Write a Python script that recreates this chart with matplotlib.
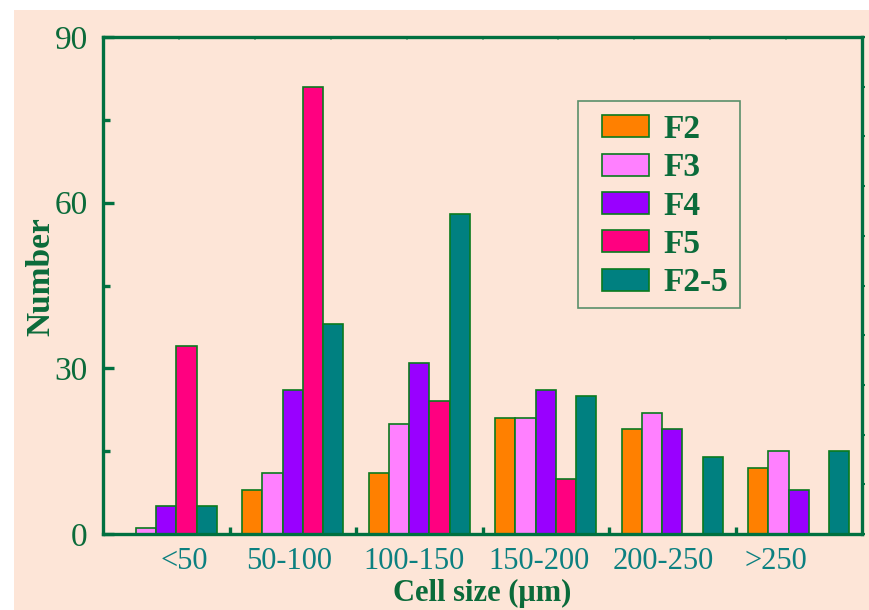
import numpy as np
import matplotlib.pyplot as plt
from matplotlib.patches import Rectangle

plt.rcParams['font.family'] = ['Liberation Serif', 'DejaVu Serif']

# cell size distribution per sample
size_bins = ["<50", "50-100", "100-150", "150-200", "200-250", ">250"]
samples = ["F2", "F3", "F4", "F5", "F2-5"]
f2 = [0, 8, 11, 21, 19, 12]
f3 = [1, 11, 20, 21, 22, 15]
f4 = [5, 26, 31, 26, 19, 8]
f5 = [34, 81, 24, 10, 0, 0]
f2_5 = [5, 38, 58, 25, 14, 15]
y_ticks = [0, 30, 60, 90]

colors = ["#ff8000", "#ff80ff", "#9900ff", "#ff0080", "#008080"]
edge = "#0a7a1e"
axis_green = "#007040"
label_green = "#0b6b3a"
tick_teal = "#0c8080"
peach = "#fde5d7"

fig = plt.figure(figsize=(8.69, 6.10), dpi=100, facecolor="white")
fig.patches.append(Rectangle((14 / 869, 0), 1, 1 - 10 / 610, transform=fig.transFigure,
                             facecolor=peach, edgecolor="none", zorder=-10))

ax = fig.add_axes([103 / 869, 76 / 610, 759 / 869, 497 / 610])
ax.set_facecolor(peach)

x = np.arange(len(size_bins))
width = 0.16
series = [f2, f3, f4, f5, f2_5]
for i, (vals, name, c) in enumerate(zip(series, samples, colors)):
    ax.bar(x + (i - 2) * width, vals, width, color=c, edgecolor=edge,
           linewidth=1.2, label=name, zorder=2)

ax.set_xlim(-0.5, 5.5)
ax.set_ylim(0, 90)

for sp in ax.spines.values():
    sp.set_color(axis_green)
    sp.set_linewidth(2.4)
    sp.set_zorder(5)

ax.set_yticks(y_ticks)
ax.set_yticks([15, 45, 75], minor=True)
ax.set_xticks(x)
ax.set_xticks(x[:-1] + 0.5, minor=True)
ax.set_xticklabels([])
ax.tick_params(axis="both", which="major", direction="in", length=8, width=2.4,
               color=axis_green, labelsize=24)
ax.tick_params(axis="both", which="minor", direction="in", length=5, width=2.4,
               color=axis_green)
ax.tick_params(axis="y", labelcolor=label_green, pad=11)
for t in ax.xaxis.get_ticklines() + ax.xaxis.get_ticklines(minor=True):
    t.set_zorder(4)

# category labels sit a little off their ticks
label_shift = [0.14, -0.03, -0.04, -0.05, -0.07, -0.18]
for xi, lab, dx in zip(x, size_bins, label_shift):
    ax.text(xi + dx, -0.027, lab, transform=ax.get_xaxis_transform(),
            ha="center", va="top", fontsize=22, color=tick_teal)

# small unlabelled ticks on the top and right frame
top = ax.secondary_xaxis("top")
top.set_xticks(np.linspace(-0.5, 5.5, 11))
top.tick_params(direction="in", length=2, width=1.2, color="#7fb08f", labeltop=False)
top.spines["top"].set_visible(False)
right = ax.secondary_yaxis("right")
right.set_yticks(np.linspace(0, 90, 11))
right.tick_params(direction="out", length=2, width=1.5, color=axis_green, labelright=False)
right.spines["right"].set_visible(False)

ax.set_xlabel("Cell size (\u03bcm)", fontsize=22, fontweight="bold", color=label_green)
ax.set_ylabel("Number", fontsize=24, fontweight="bold", color=label_green)
ax.xaxis.set_label_coords(0.5, -0.09)
ax.yaxis.set_label_coords(-0.062, 0.517)

# legend entries without their own frame, boxed separately
leg = ax.legend(loc="upper left", bbox_to_anchor=(0.6574, 0.845),
                prop={"weight": "bold", "size": 24},
                frameon=False, handlelength=1.4, handleheight=0.65,
                labelspacing=0.22, handletextpad=0.45, borderpad=0,
                borderaxespad=0)
for t in leg.get_texts():
    t.set_color(label_green)
fig.patches.append(Rectangle((578 / 869, 302 / 610), 162 / 869, 207 / 610,
                             transform=fig.transFigure, facecolor="none",
                             edgecolor="#5a8f6a", linewidth=1.2, zorder=6))

fig.savefig("out.png", dpi=100, facecolor=fig.get_facecolor())
